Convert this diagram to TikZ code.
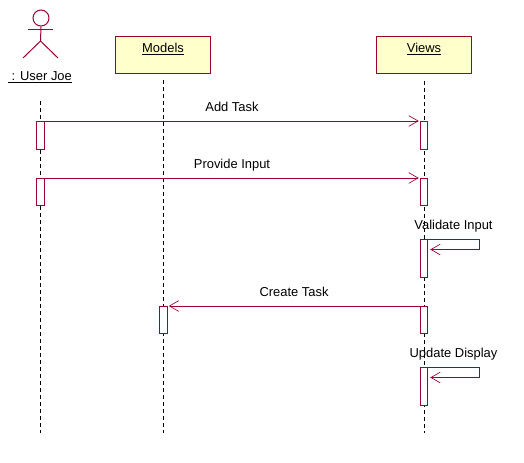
\documentclass[tikz,border=0pt]{standalone}
\usepackage{fontspec}
\setmainfont{Liberation Sans}
\usetikzlibrary{arrows.meta}

\definecolor{umlline}{HTML}{990033}
\definecolor{umlfill}{HTML}{FFFFCC}

\tikzset{
	objbox/.style = {draw = umlline, fill = umlfill, line width = 0.75pt, minimum width = 71.5pt, minimum height = 27.75pt, inner sep = 0pt},
	objtext/.style = {font = \fontsize{9.7}{11}\selectfont, inner sep = 0pt, anchor = base},
	activation/.style = {draw = umlline, fill = white, line width = 0.75pt, minimum width = 5.6pt, inner sep = 0pt, anchor = north},
	msgline/.style = {draw = umlline, line width = 0.75pt, -{Straight Barb[length = 7pt, width = 8pt, line width = 0.5pt]}, shorten > = 0.75pt},
	lifeline/.style = {black, line width = 0.75pt, dash pattern = on 3pt off 2.25pt},
	msgtext/.style = {font = \fontsize{9.7}{11}\selectfont, inner sep = 0pt, anchor = base}
}

\begin{document}
\begin{tikzpicture}[x = 0.75pt, y = -0.75pt]
	\useasboundingbox (0, 0) rectangle (524, 462);

	% lifelines
	\coordinate (usertop) at (40.5, 101);
	\coordinate (userend) at (40.5, 433);
	\coordinate (modeltop) at (163.5, 80);
	\coordinate (modelend) at (163.5, 433);
	\coordinate (viewtop) at (424, 81);
	\coordinate (viewend) at (424, 433);
	\draw[lifeline] (usertop) -- (userend);
	\draw[lifeline] (modeltop) -- (modelend);
	\draw[lifeline] (viewtop) -- (viewend);

	% actor
	\node[draw = umlline, line width = 0.75pt, circle, minimum size = 12pt, inner sep = 0pt] (userhead) at (41, 18) {};
	\coordinate (userhip) at (40.5, 41);
	\coordinate (userarml) at (28, 29);
	\coordinate (userarmr) at (53, 29);
	\coordinate (userlegl) at (23, 58);
	\coordinate (userlegr) at (58, 58);
	\draw[umlline, line width = 0.75pt] (userhead.south) -- (userhip);
	\draw[umlline, line width = 0.75pt] (userarml) -- (userarmr);
	\draw[umlline, line width = 0.75pt] (userlegl) -- (userhip) -- (userlegr);
	\node[objtext] (username) at (40, 80.5) {\underline{\ : User Joe}};

	% objects
	\node[objbox] (modelbox) at (163, 54.5) {};
	\node[objbox] (viewbox) at (424, 54.5) {};
	\node[objtext] (modelname) at (163, 52.5) {\underline{Models}};
	\node[objtext] (viewname) at (424, 52.5) {\underline{Views}};

	% activations
	\node[activation, minimum height = 21pt] (usera) at (40.5, 121) {};
	\node[activation, minimum height = 20.5pt] (userb) at (40.5, 178) {};
	\node[activation, minimum height = 20pt] (modela) at (163.5, 306) {};
	\node[activation, minimum height = 21pt] (viewa) at (424, 121) {};
	\node[activation, minimum height = 20.5pt] (viewb) at (424, 178) {};
	\node[activation, minimum height = 28.5pt] (viewc) at (424, 239) {};
	\node[activation, minimum height = 20pt] (viewd) at (424, 306) {};
	\node[activation, minimum height = 28.5pt] (viewe) at (424, 367) {};

	% messages
	\draw[msgline] (usera.north east) -- (viewa.north west);
	\draw[msgline] (userb.north east) -- (viewb.north west);
	\draw[msgline] (viewd.north west) -- (modela.north east);
	\draw[msgline] (viewc.north east) -- ++(51, 0) -- ++(0, 10.5) -- ++(-50, 0);
	\draw[msgline] (viewe.north east) -- ++(51, 0) -- ++(0, 10.5) -- ++(-50, 0);

	\node[msgtext] (addtask) at (232, 111.5) {Add Task};
	\node[msgtext] (provide) at (232, 168.5) {Provide Input};
	\node[msgtext] (validate) at (453.5, 229.5) {Validate Input};
	\node[msgtext] (create) at (294, 296.5) {Create Task};
	\node[msgtext] (update) at (453.5, 357.5) {Update Display};
\end{tikzpicture}
\end{document}
